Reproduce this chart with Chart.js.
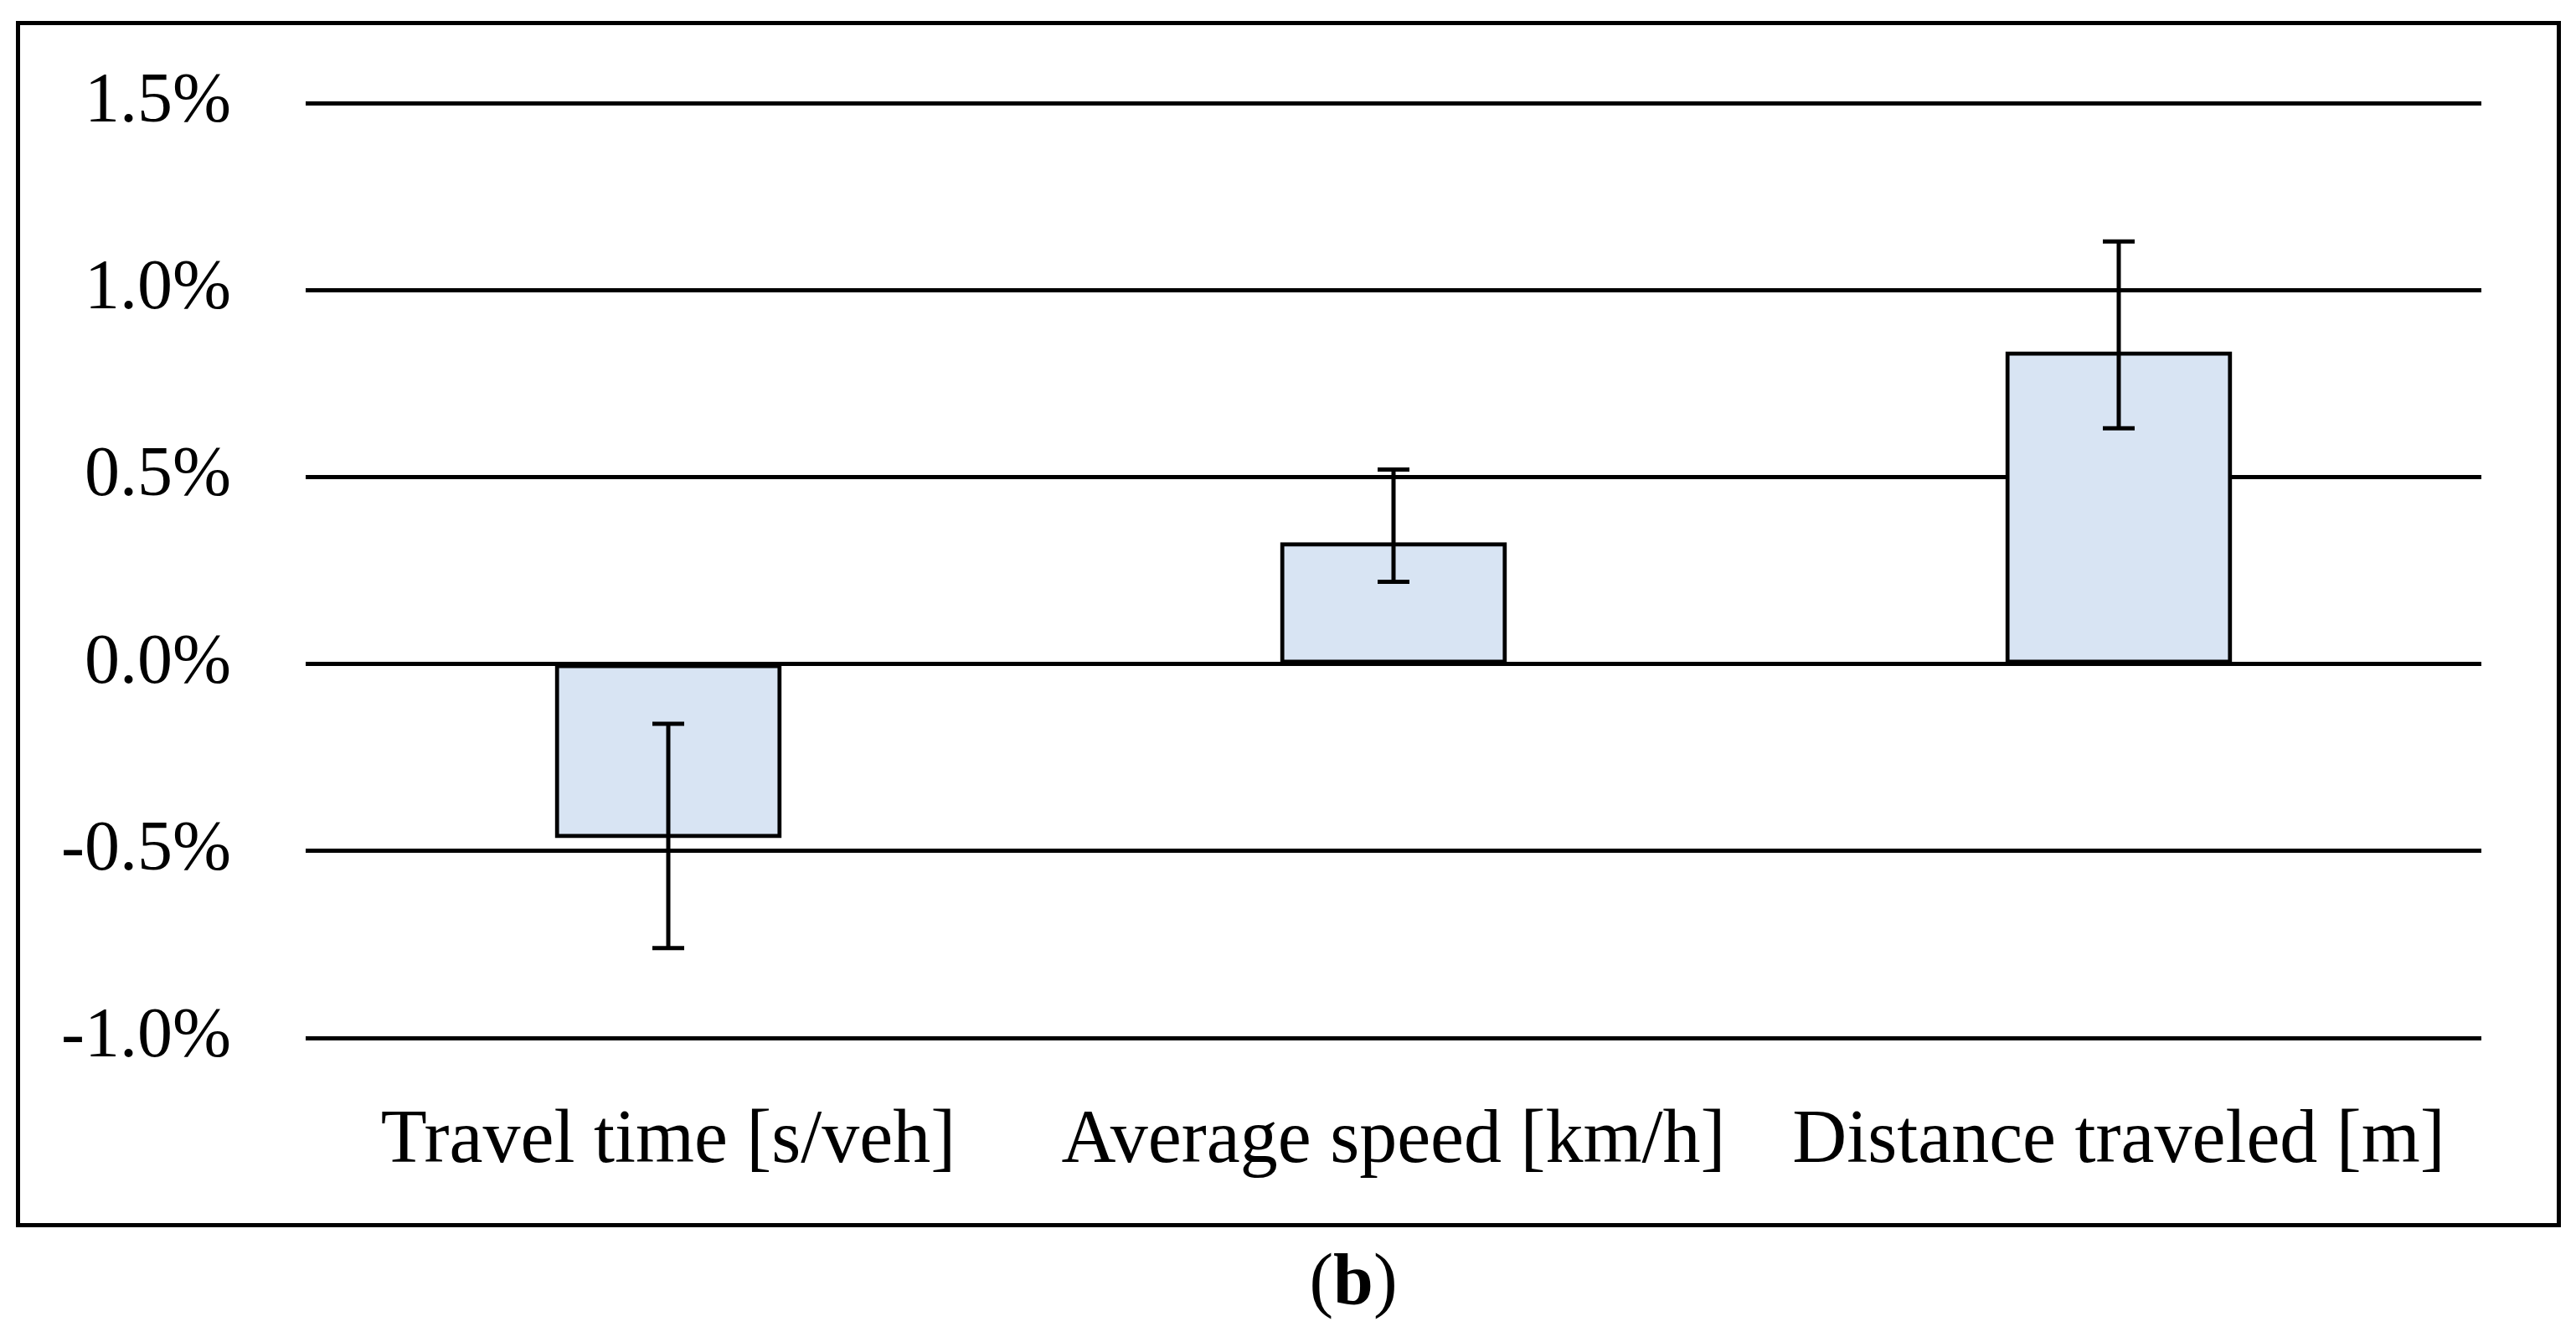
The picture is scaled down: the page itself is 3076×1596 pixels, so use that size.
<!DOCTYPE html>
<html>
<head>
<meta charset="utf-8">
<script src="https://cdn.jsdelivr.net/npm/chart.js@4/dist/chart.umd.min.js"></script>
<style>
  html, body { margin: 0; padding: 0; background: #fff; }
  #wrap { position: relative; width: 3076px; height: 1596px; overflow: hidden; }
  #c { position: absolute; left: 0; top: 0; }
  #frame { position: absolute; left: 19px; top: 25px; width: 3039px; height: 1440px;
           box-sizing: border-box; border: 5px solid #000; pointer-events: none; }
  #cap { position: absolute; left: 1416px; width: 400px; top: 1484px; text-align: center;
         font-family: "Liberation Serif", serif; font-size: 86px; line-height: 86px; color: #000; }
</style>
</head>
<body>
<div id="wrap">
  <canvas id="c" width="3076" height="1596"></canvas>
  <div id="frame"></div>
  <div id="cap">(<b>b</b>)</div>
</div>
<script>
const categories = ["Travel time [s/veh]", "Average speed [km/h]", "Distance traveled [m]"];
const values = [-0.46, 0.32, 0.83];
const errorPlus = [0.30, 0.20, 0.30];
const errorMinus = [0.30, 0.10, 0.20];
const yTicks = [-1.0, -0.5, 0.0, 0.5, 1.0, 1.5];

const errorBarPlugin = {
  id: 'errorBars',
  afterDatasetsDraw(chart) {
    const ctx = chart.ctx;
    const meta = chart.getDatasetMeta(0);
    const ys = chart.scales.y;
    ctx.save();
    ctx.strokeStyle = '#000';
    ctx.lineWidth = 5;
    ctx.lineCap = 'butt';
    meta.data.forEach((bar, i) => {
      const x = Math.round(bar.x);
      const yT = ys.getPixelForValue(values[i] + errorPlus[i]);
      const yB = ys.getPixelForValue(values[i] - errorMinus[i]);
      const half = 19;
      ctx.beginPath();
      ctx.moveTo(x, yT); ctx.lineTo(x, yB);
      ctx.moveTo(x - half, yT); ctx.lineTo(x + half, yT);
      ctx.moveTo(x - half, yB); ctx.lineTo(x + half, yB);
      ctx.stroke();
    });
    ctx.restore();
  }
};

new Chart(document.getElementById('c'), {
  type: 'bar',
  data: {
    labels: categories,
    datasets: [{
      data: values,
      backgroundColor: '#D8E4F3',
      borderColor: '#000',
      borderWidth: 5,
      borderSkipped: false,
      inflateAmount: 2.5,
      categoryPercentage: 1.0,
      barPercentage: 0.307
    }]
  },
  options: {
    responsive: false,
    animation: false,
    devicePixelRatio: 1,
    layout: { padding: { left: 0, right: 113, top: 123, bottom: 157 } },
    plugins: { legend: { display: false }, tooltip: { enabled: false } },
    scales: {
      x: {
        grid: { display: false, drawTicks: false },
        border: { display: false },
        ticks: {
          color: '#000',
          padding: 70,
          maxRotation: 0,
          autoSkip: false,
          font: { family: '"Liberation Serif", serif', size: 90 }
        },
        afterFit(scale) {
          scale.height = 200;
          scale.paddingLeft = 0; scale.paddingRight = 0;
        }
      },
      y: {
        min: yTicks[0],
        max: yTicks[yTicks.length - 1],
        afterBuildTicks(scale) { scale.ticks = yTicks.map(v => ({ value: v })); },
        grid: { color: '#000', lineWidth: 5, drawTicks: false },
        border: { display: false },
        ticks: {
          color: '#000',
          padding: 89,
          font: { family: '"Liberation Serif", serif', size: 84 },
          callback: (v) => Number(v).toFixed(1) + '%'
        },
        afterFit(scale) {
          scale.width = 365;
          scale.paddingTop = 0; scale.paddingBottom = 0;
        }
      }
    }
  },
  plugins: [errorBarPlugin]
});
</script>
</body>
</html>
